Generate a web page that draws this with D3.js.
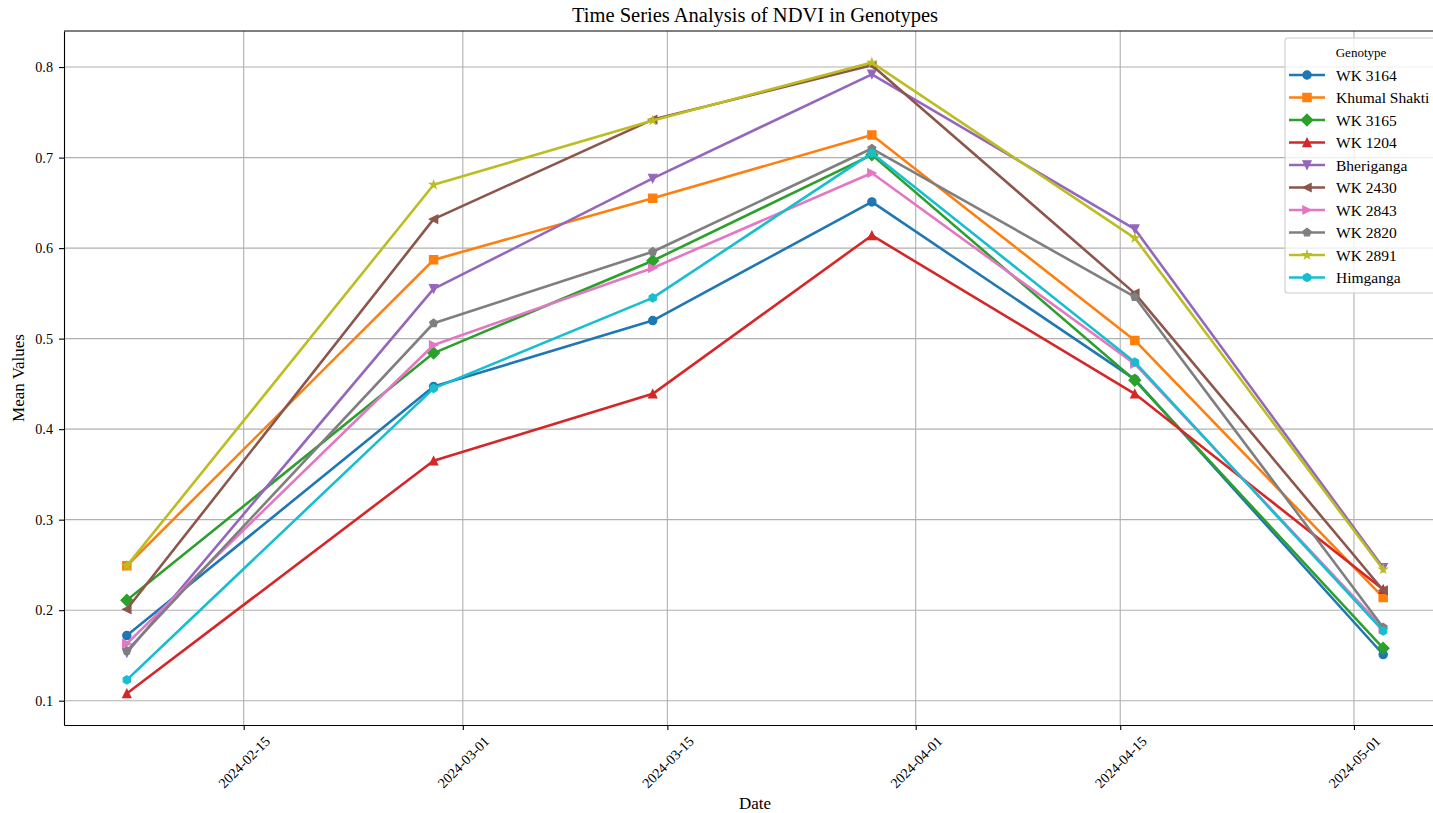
<!DOCTYPE html>
<html>
<head>
<meta charset="utf-8">
<script src="https://cdn.jsdelivr.net/npm/d3@7"></script>
<style>
  html, body { margin: 0; padding: 0; background: #fff; overflow: hidden; }
  svg { display: block; }
  svg text { font-family: "Liberation Serif", "Times New Roman", serif; }
</style>
</head>
<body>
<svg id="chart" width="1433" height="813"></svg>
<script>
// Observation dates
const dates = ["2024-02-07", "2024-02-28", "2024-03-14", "2024-03-29", "2024-04-16", "2024-05-03"];

// Genotypes, in plotting order
const genotypes = ["WK 3164", "Khumal Shakti", "WK 3165", "WK 1204", "Bheriganga",
                   "WK 2430", "WK 2843", "WK 2820", "WK 2891", "Himganga"];

// Mean NDVI per genotype, one value per date
const wk3164       = [0.172, 0.447, 0.520, 0.651, 0.455, 0.151];
const khumalShakti = [0.249, 0.587, 0.655, 0.725, 0.498, 0.214];
const wk3165       = [0.211, 0.484, 0.586, 0.703, 0.454, 0.158];
const wk1204       = [0.108, 0.365, 0.439, 0.614, 0.439, 0.223];
const bheriganga   = [0.153, 0.555, 0.677, 0.792, 0.621, 0.247];
const wk2430       = [0.201, 0.632, 0.742, 0.802, 0.550, 0.222];
const wk2843       = [0.163, 0.493, 0.578, 0.683, 0.472, 0.180];
const wk2820       = [0.155, 0.517, 0.596, 0.710, 0.546, 0.181];
const wk2891       = [0.249, 0.670, 0.741, 0.805, 0.611, 0.245];
const himganga     = [0.123, 0.445, 0.545, 0.705, 0.474, 0.177];

const seriesValues = [wk3164, khumalShakti, wk3165, wk1204, bheriganga,
                      wk2430, wk2843, wk2820, wk2891, himganga];

// Axis ticks
const xTickLabels = ["2024-02-15", "2024-03-01", "2024-03-15", "2024-04-01", "2024-04-15", "2024-05-01"];
const yTickValues = [0.1, 0.2, 0.3, 0.4, 0.5, 0.6, 0.7, 0.8];

// Styling
const colors = ["#1f77b4", "#ff7f0e", "#2ca02c", "#d62728", "#9467bd",
                "#8c564b", "#e377c2", "#7f7f7f", "#bcbd22", "#17becf"];
const markers = ["o", "s", "D", "^", "v", "<", ">", "p", "*", "h"];

const serif = "'Liberation Serif', 'Times New Roman', serif";
const parse = d3.timeParse("%Y-%m-%d");
const xDates = dates.map(parse);

const svg = d3.select("#chart");

// Plot area
const plotL = 64, plotR = 1446, plotT = 31, plotB = 725;

// Domains padded by 5% of the data span
const tExt = d3.extent(xDates);
const tPad = (tExt[1] - tExt[0]) * 0.05;
const x = d3.scaleTime()
  .domain([new Date(+tExt[0] - tPad), new Date(+tExt[1] + tPad)])
  .range([plotL, plotR]);

const allVals = seriesValues.flat();
const vExt = d3.extent(allVals);
const vPad = (vExt[1] - vExt[0]) * 0.05;
const y = d3.scaleLinear()
  .domain([vExt[0] - vPad, vExt[1] + vPad])
  .range([plotB, plotT]);

const xTicks = xTickLabels.map(parse);

// Grid
const grid = svg.append("g");
grid.selectAll("line.gx").data(xTicks).join("line")
  .attr("class", "gx")
  .attr("x1", d => x(d)).attr("x2", d => x(d))
  .attr("y1", plotT).attr("y2", plotB)
  .attr("stroke", "#b0b0b0").attr("stroke-width", 1.1);
grid.selectAll("line.gy").data(yTickValues).join("line")
  .attr("class", "gy")
  .attr("x1", plotL).attr("x2", plotR)
  .attr("y1", d => y(d)).attr("y2", d => y(d))
  .attr("stroke", "#b0b0b0").attr("stroke-width", 1.1);

// Marker path builder (size in px, centred at origin)
const ms = 8.3;
function polygon(n, r, rot) {
  const pts = [];
  for (let i = 0; i < n; i++) {
    const a = rot + i * 2 * Math.PI / n;
    pts.push([r * Math.sin(a), -r * Math.cos(a)]);
  }
  return "M" + pts.map(p => p[0].toFixed(2) + "," + p[1].toFixed(2)).join("L") + "Z";
}
function star(r, inner) {
  const pts = [];
  for (let i = 0; i < 10; i++) {
    const a = i * Math.PI / 5;
    const rr = i % 2 === 0 ? r : r * inner;
    pts.push([rr * Math.sin(a), -rr * Math.cos(a)]);
  }
  return "M" + pts.map(p => p[0].toFixed(2) + "," + p[1].toFixed(2)).join("L") + "Z";
}
function markerPath(m) {
  const h = ms / 2;
  switch (m) {
    case "o": return `M${h},0A${h},${h} 0 1,1 ${-h},0A${h},${h} 0 1,1 ${h},0Z`;
    case "s": return `M${-h},${-h}L${h},${-h}L${h},${h}L${-h},${h}Z`;
    case "D": { const d = ms * Math.SQRT1_2; return `M0,${-d}L${d},0L0,${d}L${-d},0Z`; }
    case "^": return `M0,${-h}L${h},${h}L${-h},${h}Z`;
    case "v": return `M0,${h}L${h},${-h}L${-h},${-h}Z`;
    case "<": return `M${-h},0L${h},${-h}L${h},${h}Z`;
    case ">": return `M${h},0L${-h},${-h}L${-h},${h}Z`;
    case "p": return polygon(5, h, 0);
    case "*": return star(h, 0.381966);
    case "h": return polygon(6, h, 0);
  }
}

// Series lines and markers
const line = d3.line().x((d, i) => x(xDates[i])).y(d => y(d));
const plot = svg.append("g");
seriesValues.forEach((vals, k) => {
  const g = plot.append("g");
  g.append("path").datum(vals)
    .attr("d", line)
    .attr("fill", "none")
    .attr("stroke", colors[k])
    .attr("stroke-width", 2.6)
    .attr("stroke-linejoin", "round")
    .attr("stroke-linecap", "square");
  g.selectAll("path.m").data(vals).join("path")
    .attr("class", "m")
    .attr("d", markerPath(markers[k]))
    .attr("transform", (d, i) => `translate(${x(xDates[i])},${y(d)})`)
    .attr("fill", colors[k])
    .attr("stroke", colors[k])
    .attr("stroke-width", 1.2)
    .attr("stroke-linejoin", "miter");
});

// Axes
const xAxis = svg.append("g")
  .attr("transform", `translate(0,${plotB})`)
  .call(d3.axisBottom(x).tickValues(xTicks).tickFormat(d3.timeFormat("%Y-%m-%d")).tickSizeInner(5).tickSizeOuter(0))
  .attr("font-family", serif)
  .attr("font-size", 14.2);
xAxis.select(".domain").attr("stroke", "#000").attr("stroke-width", 1.1);
xAxis.selectAll(".tick line").attr("stroke", "#000").attr("stroke-width", 1.1);
xAxis.selectAll(".tick text")
  .attr("fill", "#000")
  .attr("text-anchor", "middle")
  .attr("dominant-baseline", "central")
  .attr("dy", null)
  .attr("y", null)
  .attr("transform", "translate(0,37) rotate(-45)");

const yAxis = svg.append("g")
  .attr("transform", `translate(${plotL},0)`)
  .call(d3.axisLeft(y).tickValues(yTickValues).tickFormat(d3.format(".1f")).tickSizeInner(5).tickSizeOuter(0).tickPadding(6))
  .attr("font-family", serif)
  .attr("font-size", 14.2);
yAxis.select(".domain").attr("stroke", "#000").attr("stroke-width", 1.1);
yAxis.selectAll(".tick line").attr("stroke", "#000").attr("stroke-width", 1.1);
yAxis.selectAll(".tick text").attr("fill", "#000");

// Remaining spines
svg.append("line").attr("x1", plotL).attr("x2", plotR).attr("y1", plotT).attr("y2", plotT)
  .attr("stroke", "#000").attr("stroke-width", 1.1);
svg.append("line").attr("x1", plotR).attr("x2", plotR).attr("y1", plotT).attr("y2", plotB)
  .attr("stroke", "#000").attr("stroke-width", 1.1);

// Titles
svg.append("text")
  .attr("x", 755).attr("y", 22)
  .attr("text-anchor", "middle")
  .attr("font-size", 20.5)
  .attr("fill", "#000")
  .text("Time Series Analysis of NDVI in Genotypes");
svg.append("text")
  .attr("x", 755).attr("y", 809)
  .attr("text-anchor", "middle")
  .attr("font-size", 17)
  .attr("fill", "#000")
  .text("Date");
svg.append("text")
  .attr("transform", `translate(24,${(plotT + plotB) / 2}) rotate(-90)`)
  .attr("text-anchor", "middle")
  .attr("font-size", 17)
  .attr("fill", "#000")
  .text("Mean Values");

// Legend
const lg = svg.append("g").attr("transform", "translate(1285,38)");
lg.append("rect")
  .attr("x", 0).attr("y", 0).attr("width", 156).attr("height", 255)
  .attr("rx", 3)
  .attr("fill", "#fff").attr("fill-opacity", 0.8)
  .attr("stroke", "#cccccc").attr("stroke-width", 1.1);
lg.append("text")
  .attr("x", 76).attr("y", 14).attr("dominant-baseline", "central")
  .attr("text-anchor", "middle")
  .attr("font-size", 13).attr("fill", "#000")
  .text("Genotype");
const entries = lg.selectAll("g.entry").data(genotypes).join("g")
  .attr("class", "entry")
  .attr("transform", (d, i) => `translate(0,${37 + i * 22.5})`);
entries.append("line")
  .attr("x1", 4).attr("x2", 40).attr("y1", 0).attr("y2", 0)
  .attr("stroke", (d, i) => colors[i]).attr("stroke-width", 2.6);
entries.append("path")
  .attr("d", (d, i) => markerPath(markers[i]))
  .attr("transform", "translate(22,0)")
  .attr("fill", (d, i) => colors[i])
  .attr("stroke", (d, i) => colors[i])
  .attr("stroke-width", 1.2);
entries.append("text")
  .attr("x", 51).attr("y", 0).attr("dominant-baseline", "central")
  .attr("font-size", 15.5).attr("fill", "#000")
  .text(d => d);
</script>
</body>
</html>
